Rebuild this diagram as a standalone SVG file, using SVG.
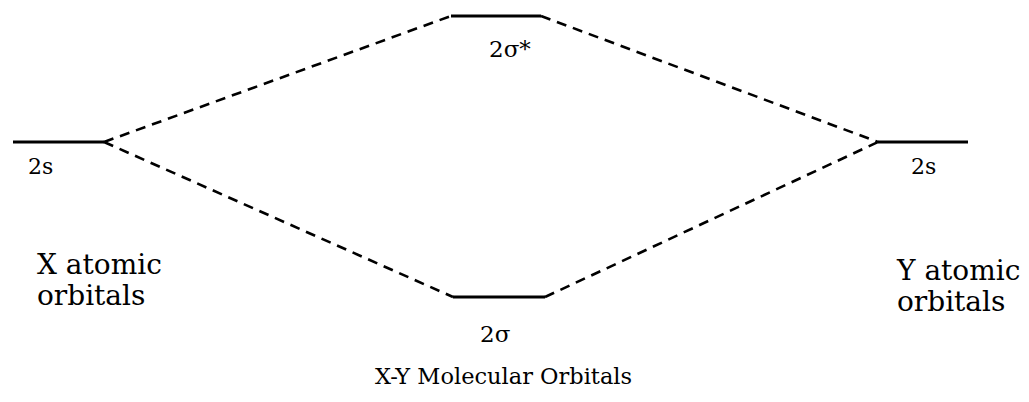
<svg xmlns="http://www.w3.org/2000/svg" width="1029" height="402" viewBox="0 0 1029 402">
<style>
.lvl{stroke:#000;stroke-width:3;fill:none}
.dash{stroke:#000;stroke-width:2.6;fill:none;stroke-dasharray:10 7}
.t{font-family:"DejaVu Serif","Liberation Serif",serif;fill:#000}
.s{font-size:22px}
.m{font-size:23px}
.b{font-size:28px}
.c{font-size:22.5px}
</style>
<rect width="1029" height="402" fill="#fff"/>
<g id="connectors">
<line class="dash" x1="104" y1="142" x2="451" y2="16"/>
<line class="dash" x1="541" y1="16" x2="878" y2="142"/>
<line class="dash" x1="104" y1="142" x2="453" y2="297"/>
<line class="dash" x1="545" y1="297" x2="878" y2="142"/>
</g>
<g id="x2s">
<line class="lvl" x1="13" y1="142" x2="104" y2="142"/>
<text class="t s" x="28" y="174">2s</text>
</g>
<g id="y2s">
<line class="lvl" x1="878" y1="142" x2="968" y2="142"/>
<text class="t s" x="911" y="174">2s</text>
</g>
<g id="sigmastar">
<line class="lvl" x1="451" y1="16" x2="541" y2="16"/>
<text class="t m" x="489" y="57">2σ*</text>
</g>
<g id="sigma">
<line class="lvl" x1="453" y1="297" x2="545" y2="297"/>
<text class="t m" x="480" y="342">2σ</text>
</g>
<g id="xlabel">
<text class="t b" x="37" y="274">X atomic</text>
<text class="t b" x="37" y="305">orbitals</text>
</g>
<g id="ylabel">
<text class="t b" x="897" y="280">Y atomic</text>
<text class="t b" x="897" y="311">orbitals</text>
</g>
<g id="mo">
<text class="t c" x="375" y="384">X-Y Molecular Orbitals</text>
</g>
</svg>
